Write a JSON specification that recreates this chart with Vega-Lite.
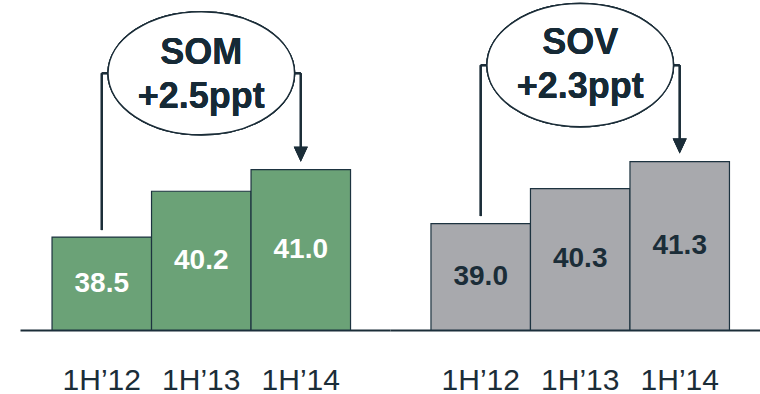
{
  "$schema": "https://vega.github.io/schema/vega-lite/v6.json",
  "background": "white",
  "padding": {"left": 20, "top": 0, "right": 0, "bottom": 0},
  "spacing": 0,
  "bounds": "flush",
  "datasets": {
    "som": [
      {"period": "1H’12", "value": 38.5},
      {"period": "1H’13", "value": 40.2},
      {"period": "1H’14", "value": 41.0}
    ],
    "sov": [
      {"period": "1H’12", "value": 39.0},
      {"period": "1H’13", "value": 40.3},
      {"period": "1H’14", "value": 41.3}
    ]
  },
  "config": {
    "view": {"stroke": null},
    "axis": {
      "domainColor": "#1b2d38",
      "domainWidth": 2,
      "ticks": false,
      "grid": false,
      "labelFont": "Liberation Sans",
      "labelFontSize": 30,
      "labelColor": "#1b2d38",
      "labelAngle": 0,
      "labelBaseline": "alphabetic",
      "labelPadding": 59
    }
  },
  "hconcat": [
    {
      "width": 370,
      "height": 330,
      "data": {"name": "som"},
      "resolve": {"scale": {"y": "independent"}},
      "layer": [
        {
          "layer": [
            {
              "mark": {"type": "bar", "fill": "#6ba277", "stroke": "#1d3340", "strokeWidth": 1.2},
              "encoding": {
                "x": {
                  "field": "period", "type": "nominal", "sort": null, "title": null,
                  "scale": {"paddingInner": 0, "paddingOuter": 0.3593, "align": 0.448}
                },
                "y": {
                  "field": "value", "type": "quantitative", "axis": null,
                  "scale": {"domain": [35.05, 47.3], "nice": false, "zero": false}
                },
                "y2": {"datum": 35.05}
              }
            },
            {
              "mark": {"type": "rule", "stroke": "#1b2d38", "strokeWidth": 2},
              "encoding": {
                "x": {"datum": "1H’12", "type": "nominal"},
                "y": {"datum": 38.76, "type": "quantitative"},
                "y2": {"datum": 44.58}
              }
            },
            {
              "mark": {"type": "rule", "stroke": "#1b2d38", "strokeWidth": 2},
              "encoding": {
                "x": {"datum": "1H’12", "type": "nominal"},
                "x2": {"datum": "1H’14"},
                "y": {"datum": 44.58, "type": "quantitative"}
              }
            },
            {
              "mark": {"type": "rule", "stroke": "#1b2d38", "strokeWidth": 2},
              "encoding": {
                "x": {"datum": "1H’14", "type": "nominal"},
                "y": {"datum": 44.58, "type": "quantitative"},
                "y2": {"datum": 41.57}
              }
            },
            {
              "mark": {
                "type": "point",
                "shape": "M -0.93 -1 L 0.93 -1 L 0 1 Z",
                "size": 225,
                "filled": true,
                "fill": "#1b2d38",
                "opacity": 1,
                "strokeWidth": 0
              },
              "encoding": {
                "x": {"datum": "1H’14", "type": "nominal"},
                "y": {"datum": 41.57, "type": "quantitative"}
              }
            },
            {
              "mark": {
                "type": "point",
                "shape": "M -1 0 A 1 0.66 0 1 1 1 0 A 1 0.66 0 1 1 -1 0 Z",
                "size": 34820,
                "filled": true,
                "fill": "white",
                "fillOpacity": 1,
                "opacity": 1,
                "stroke": "#1b2d38",
                "strokeWidth": 1.5
              },
              "encoding": {
                "x": {"datum": "1H’13", "type": "nominal"},
                "y": {"datum": 44.58, "type": "quantitative"}
              }
            },
            {
              "mark": {
                "type": "text",
                "text": ["SOM", "+2.5ppt"],
                "font": "Liberation Sans",
                "fontWeight": "bold",
                "fontSize": 36,
                "lineHeight": 44,
                "color": "#162a36",
                "align": "center",
                "baseline": "middle"
              },
              "encoding": {
                "x": {"datum": "1H’13", "type": "nominal"},
                "y": {"datum": 45.33, "type": "quantitative"}
              }
            }
          ]
        },
        {
          "mark": {
            "type": "text",
            "font": "Liberation Sans",
            "fontWeight": "bold",
            "fontSize": 28,
            "color": "white",
            "baseline": "middle"
          },
          "encoding": {
            "x": {"field": "period", "type": "nominal", "sort": null},
            "y": {
              "field": "value", "type": "quantitative", "axis": null,
              "scale": {"domain": [35.05, 59.55], "nice": false, "zero": false}
            },
            "text": {"field": "value", "type": "quantitative", "format": ".1f"}
          }
        }
      ]
    },
    {
      "width": 370,
      "height": 330,
      "data": {"name": "sov"},
      "resolve": {"scale": {"y": "independent"}},
      "layer": [
        {
          "layer": [
            {
              "mark": {"type": "bar", "fill": "#a8a9ad", "stroke": "#1d3340", "strokeWidth": 1.2},
              "encoding": {
                "x": {
                  "field": "period", "type": "nominal", "sort": null, "title": null,
                  "scale": {"paddingInner": 0, "paddingOuter": 0.3593, "align": 0.573}
                },
                "y": {
                  "field": "value", "type": "quantitative", "axis": null,
                  "scale": {"domain": [35.05, 47.3], "nice": false, "zero": false}
                },
                "y2": {"datum": 35.05}
              }
            },
            {
              "mark": {"type": "rule", "stroke": "#1b2d38", "strokeWidth": 2},
              "encoding": {
                "x": {"datum": "1H’12", "type": "nominal"},
                "y": {"datum": 39.28, "type": "quantitative"},
                "y2": {"datum": 44.88}
              }
            },
            {
              "mark": {"type": "rule", "stroke": "#1b2d38", "strokeWidth": 2},
              "encoding": {
                "x": {"datum": "1H’12", "type": "nominal"},
                "x2": {"datum": "1H’14"},
                "y": {"datum": 44.88, "type": "quantitative"}
              }
            },
            {
              "mark": {"type": "rule", "stroke": "#1b2d38", "strokeWidth": 2},
              "encoding": {
                "x": {"datum": "1H’14", "type": "nominal"},
                "y": {"datum": 44.88, "type": "quantitative"},
                "y2": {"datum": 41.88}
              }
            },
            {
              "mark": {
                "type": "point",
                "shape": "M -0.93 -1 L 0.93 -1 L 0 1 Z",
                "size": 225,
                "filled": true,
                "fill": "#1b2d38",
                "opacity": 1,
                "strokeWidth": 0
              },
              "encoding": {
                "x": {"datum": "1H’14", "type": "nominal"},
                "y": {"datum": 41.88, "type": "quantitative"}
              }
            },
            {
              "mark": {
                "type": "point",
                "shape": "M -1 0 A 1 0.66 0 1 1 1 0 A 1 0.66 0 1 1 -1 0 Z",
                "size": 34820,
                "filled": true,
                "fill": "white",
                "fillOpacity": 1,
                "opacity": 1,
                "stroke": "#1b2d38",
                "strokeWidth": 1.5
              },
              "encoding": {
                "x": {"datum": "1H’13", "type": "nominal"},
                "y": {"datum": 44.88, "type": "quantitative"}
              }
            },
            {
              "mark": {
                "type": "text",
                "text": ["SOV", "+2.3ppt"],
                "font": "Liberation Sans",
                "fontWeight": "bold",
                "fontSize": 36,
                "lineHeight": 44,
                "color": "#162a36",
                "align": "center",
                "baseline": "middle"
              },
              "encoding": {
                "x": {"datum": "1H’13", "type": "nominal"},
                "y": {"datum": 45.70, "type": "quantitative"}
              }
            }
          ]
        },
        {
          "mark": {
            "type": "text",
            "font": "Liberation Sans",
            "fontWeight": "bold",
            "fontSize": 28,
            "color": "#1b2d38",
            "baseline": "middle"
          },
          "encoding": {
            "x": {"field": "period", "type": "nominal", "sort": null},
            "y": {
              "field": "value", "type": "quantitative", "axis": null,
              "scale": {"domain": [35.05, 59.55], "nice": false, "zero": false}
            },
            "text": {"field": "value", "type": "quantitative", "format": ".1f"}
          }
        }
      ]
    }
  ]
}
